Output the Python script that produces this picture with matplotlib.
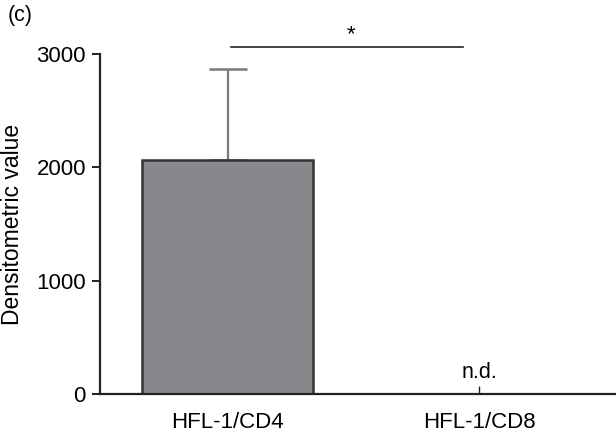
import matplotlib.pyplot as plt

plt.rcParams['font.family'] = ['Liberation Sans', 'DejaVu Sans']

groups = ['HFL-1/CD4', 'HFL-1/CD8']
means = [2060, 0]
errors = [810, 0]
yticks = [0, 1000, 2000, 3000]

fig = plt.figure(figsize=(6.16, 4.34), dpi=100)
ax = fig.add_axes([0.162, 0.092, 0.836, 0.784])

x = list(range(len(groups)))
ax.bar(x[0], means[0], width=0.68, color='#87888b', edgecolor='#333333', linewidth=1.8, zorder=2)
ax.errorbar(x[0], means[0], yerr=[[0], [errors[0]]], color='#7a7a7a', capsize=14, capthick=1.8,
            elinewidth=1.6, fmt='none', zorder=1)

ax.text(x[1], 95, 'n.d.', ha='center', va='bottom', fontsize=15.5)

# significance bar
ax.plot([0.012, 0.936], [3063, 3063], color='#222222', lw=1.2, clip_on=False)
ax.text(0.49, 3075, '*', ha='center', va='bottom', fontsize=16)

ax.set_xlim(-0.51, 1.54)
ax.set_ylim(0, 3000)
ax.set_xticks(x)
ax.set_xticklabels(groups, fontsize=16)
ax.set_yticks(yticks)
ax.set_yticklabels([str(t) for t in yticks], fontsize=16)
ax.set_ylabel('Densitometric value', fontsize=16.5, labelpad=9)

for s in ['top', 'right']:
    ax.spines[s].set_visible(False)
for s in ['left', 'bottom']:
    ax.spines[s].set_linewidth(1.6)
    ax.spines[s].set_color('#222222')
ax.tick_params(axis='y', direction='out', length=6, width=1.4, color='#222222', pad=4)
ax.tick_params(axis='x', direction='in', length=6, width=1.0, color='#222222', pad=13)

fig.text(0.012, 0.965, '(c)', fontsize=15.5, ha='left', va='center')

fig.savefig('out.png', dpi=100)
